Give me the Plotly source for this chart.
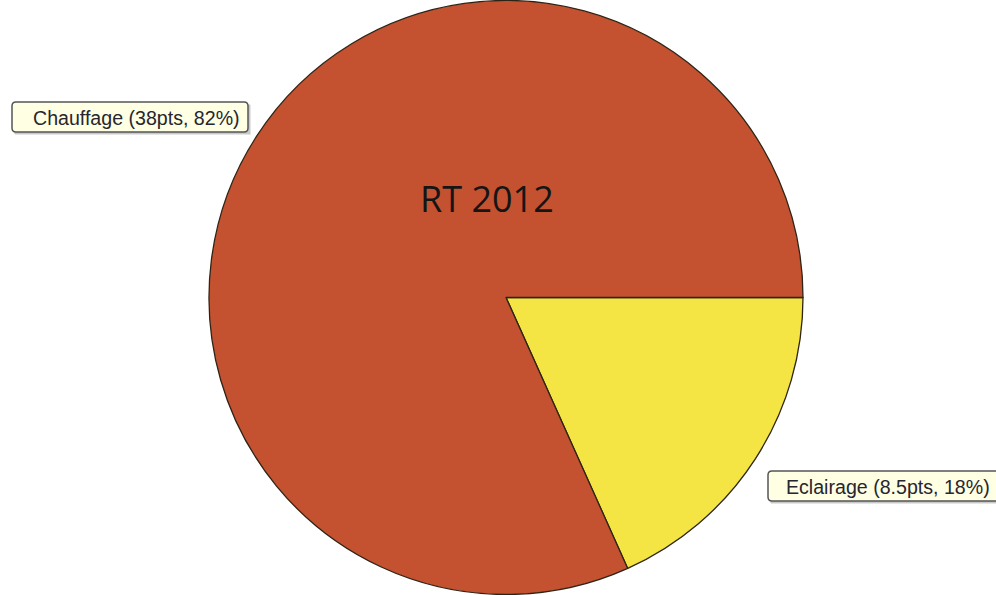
import plotly.graph_objects as go

labels = ["Eclairage", "Chauffage"]
values = [8.5, 38]
pct_labels = ["18%", "82%"]
colors = ["#F4E544", "#C45230"]
title_text = "RT 2012"

W, H = 996, 595

fig = go.Figure(go.Pie(
    labels=labels,
    values=values,
    sort=False,
    direction="clockwise",
    rotation=90,
    marker=dict(colors=colors, line=dict(color="#2E2416", width=1.3)),
    textinfo="none",
    hoverinfo="none",
    showlegend=False,
    domain=dict(x=[209 / W, 803 / W], y=[0, 1]),
))

def fmt(v):
    return ("%g" % v)

ann_specs = [
    # label index, box left, box right, center y, text center x
    (1, 12, 248, 117, 136),
    (0, 768, 1000, 486, 888),
]

shapes = []
annotations = []
for idx, x0, x1, yc, tx in ann_specs:
    y0, y1 = yc - 15, yc + 15
    r = 4
    for off, col in [(3, "rgba(0,0,0,0.10)"), (2, "rgba(0,0,0,0.12)")]:
        shapes.append(dict(
            type="rect", xref="paper", yref="paper",
            x0=(x0 + off) / W, x1=(x1 + off) / W,
            y0=1 - (y1 + off) / H, y1=1 - (y0 + off) / H,
            line=dict(width=0), fillcolor=col, layer="above"))
    path = (f"M {(x0 + r) / W},{1 - y0 / H} L {(x1 - r) / W},{1 - y0 / H} "
            f"Q {x1 / W},{1 - y0 / H} {x1 / W},{1 - (y0 + r) / H} "
            f"L {x1 / W},{1 - (y1 - r) / H} Q {x1 / W},{1 - y1 / H} {(x1 - r) / W},{1 - y1 / H} "
            f"L {(x0 + r) / W},{1 - y1 / H} Q {x0 / W},{1 - y1 / H} {x0 / W},{1 - (y1 - r) / H} "
            f"L {x0 / W},{1 - (y0 + r) / H} Q {x0 / W},{1 - y0 / H} {(x0 + r) / W},{1 - y0 / H} Z")
    shapes.append(dict(type="path", xref="paper", yref="paper", path=path,
                       fillcolor="#FFFFE4", line=dict(color="#555555", width=1.5),
                       layer="above"))
    annotations.append(dict(
        x=tx / W, y=1 - (yc + 1) / H, xref="paper", yref="paper",
        text=f"{labels[idx]} ({fmt(values[idx])}pts, {pct_labels[idx]})",
        showarrow=False, xanchor="center", yanchor="middle",
        font=dict(family="Liberation Sans, Arial, sans-serif", size=19.6, color="#262630"),
    ))

annotations.append(dict(
    x=487 / W, y=1 - 199 / H, xref="paper", yref="paper",
    text=title_text, showarrow=False, xanchor="center", yanchor="middle",
    font=dict(family="Open Sans, Noto Sans, sans-serif", size=36, color="#151515"),
))

fig.update_layout(
    width=W, height=H,
    margin=dict(l=0, r=0, t=0, b=0),
    paper_bgcolor="white",
    plot_bgcolor="white",
    shapes=shapes,
    annotations=annotations,
)

fig.write_html("out.html")
